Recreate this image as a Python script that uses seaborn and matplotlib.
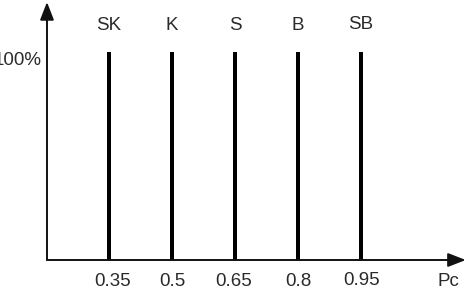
import matplotlib
matplotlib.use("Agg")
import matplotlib.pyplot as plt
import seaborn as sns
import pandas as pd

sns.set_theme(style="white")
plt.rcParams['font.family'] = ['Liberation Sans', 'DejaVu Sans']

pc_values = [0.35, 0.5, 0.65, 0.8, 0.95]
pc_labels = ["0.35", "0.5", "0.65", "0.8", "0.95"]
names = ["SK", "K", "S", "B", "SB"]
heights = [100, 100, 100, 100, 100]

df = pd.DataFrame({"pc": pc_values, "h": heights})

fig = plt.figure(figsize=(4.66, 2.99), dpi=100)
ax = fig.add_axes([0, 0, 1, 1])

sns.barplot(data=df, x="pc", y="h", native_scale=True, width=0.064,
            color="black", saturation=1, ax=ax, linewidth=0)

ax.set_xlim(0.0908, 1.1995)
ax.set_ylim(-18.75, 125)
ax.axis("off")

x0, y0 = 0.2026, 0.0
# x axis
ax.annotate("", xy=(1.199, y0), xytext=(x0, y0),
            arrowprops=dict(arrowstyle="-|>,head_length=0.9,head_width=0.35",
                            color="#111111", lw=1.4, shrinkA=0, shrinkB=0))
# y axis
ax.annotate("", xy=(x0, 124), xytext=(x0, y0),
            arrowprops=dict(arrowstyle="-|>,head_length=0.9,head_width=0.35",
                            color="#111111", lw=1.4, shrinkA=0, shrinkB=0))

txt_col = "#2a2a2a"
fs = 13.5
label_dx = [0.008, 0.0, -0.004, 0.0, 0.0]
label_dy = [0.0, 0.0, 0.0, 0.0, 0.8]
for v, lab, dx, dy in zip(pc_values, pc_labels, label_dx, label_dy):
    ax.text(v + dx, -10.5 + dy, lab, ha="center", va="center", fontsize=fs, color=txt_col)
name_dy = [0.0, 0.0, 0.0, 0.0, 0.8]
for v, n, dy in zip(pc_values, names, name_dy):
    ax.text(v, 112.5 + dy, n, ha="center", va="center", fontsize=fs, color=txt_col)

ax.text(0.19, 96, "100%", ha="right", va="center", fontsize=fs, color=txt_col)
ax.text(1.158, -10.5, "Pc", ha="center", va="center", fontsize=fs, color=txt_col)

fig.savefig("out.png", dpi=100)
